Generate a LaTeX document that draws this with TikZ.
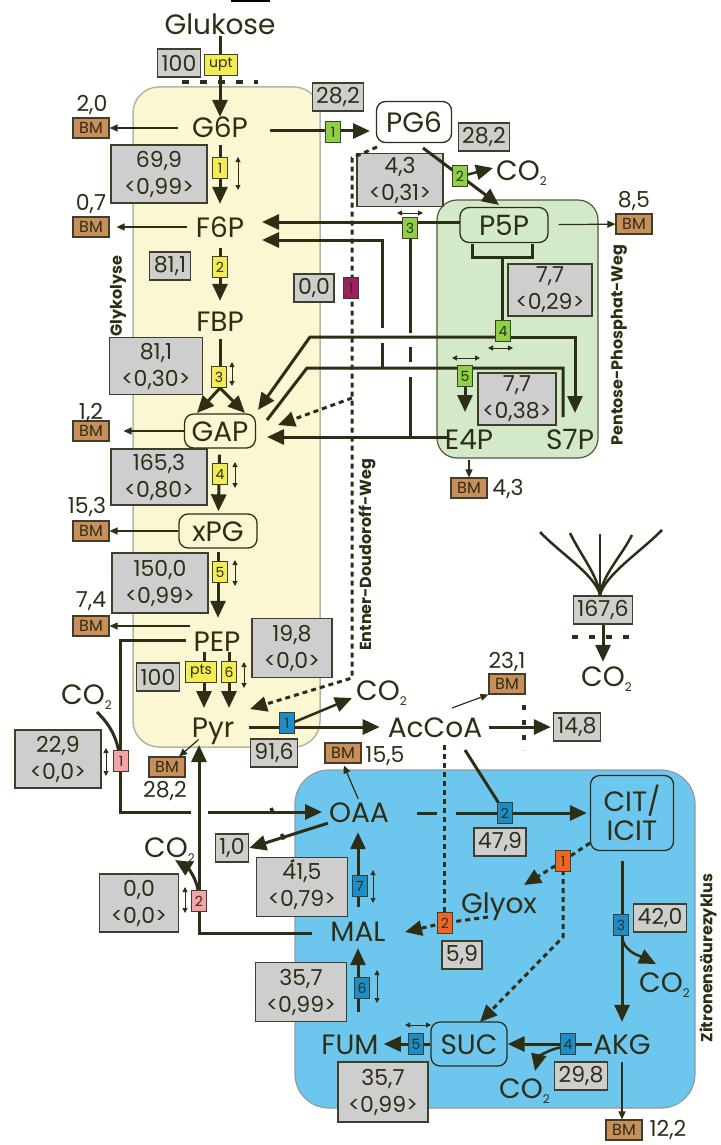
\documentclass[tikz,border=0pt]{standalone}
\usepackage{fontspec}
\setmainfont{Poppins}
\usetikzlibrary{arrows.meta}

\definecolor{ink}{HTML}{2E2E16}
\definecolor{boxedge}{HTML}{3E3E2A}
\definecolor{glyfill}{HTML}{FBF7D3}
\definecolor{glyedge}{HTML}{B5B5A5}
\definecolor{pppfill}{HTML}{D3EACA}
\definecolor{pppedge}{HTML}{55553A}
\definecolor{tcafill}{HTML}{6DC6EE}
\definecolor{tcaedge}{HTML}{8E9CA3}
\definecolor{fluxgray}{HTML}{CECECE}
\definecolor{bmbrown}{HTML}{C98F5B}
\definecolor{tyellow}{HTML}{F3EC55}
\definecolor{tgreen}{HTML}{8DCF46}
\definecolor{tblue}{HTML}{1B8DC9}
\definecolor{torange}{HTML}{F06525}
\definecolor{tpink}{HTML}{F3A3AA}
\definecolor{tpurple}{HTML}{9D1F5E}

\newcommand{\metfont}{\fontsize{28}{29}\selectfont}
\newcommand{\numfont}{\fontsize{22}{27}\selectfont}
\newcommand{\tagfont}{\fontsize{14}{14}\selectfont}
\newcommand{\bmfont}{\fontsize{16}{16}\selectfont}
\newcommand{\pathfont}{\fontsize{16}{16}\selectfont\bfseries}
\newcommand{\cotwo}{CO\raisebox{-5pt}{\fontsize{12}{12}\selectfont 2}}

\tikzset{
  metbase/.style={text=ink, inner sep=1pt},
  met/.style={metbase, font=\metfont, text height=20pt, text depth=0pt},
  boxline/.style={draw=ink, line width=1.3pt, rounded corners=9pt, inner xsep=7pt, inner ysep=7pt},
  metbox/.style={met, boxline},
  flux/.style={draw=boxedge, fill=fluxgray, line width=1.3pt, font=\numfont, text=ink, align=center, inner xsep=4pt, inner ysep=3pt, minimum height=28pt},
  bm/.style={draw=boxedge, fill=bmbrown, line width=1.1pt, font=\bmfont, text=ink, minimum width=36pt, minimum height=20pt, inner sep=0pt},
  bmval/.style={font=\numfont, text=ink, inner sep=1pt, text height=15pt, text depth=0pt},
  tag/.style={draw=boxedge, line width=0.8pt, font=\tagfont, text=ink, minimum width=15pt, minimum height=21pt, inner sep=1pt},
  flow/.style={draw=ink, line width=3pt, -{Triangle[length=17pt,width=15pt]}},
  bar/.style={draw=ink, line width=3pt},
  dflow/.style={flow, dash pattern=on 5pt off 4pt},
  dbar/.style={bar, dash pattern=on 5pt off 4pt},
  bmarrow/.style={draw=ink, line width=1.2pt, -{Triangle[length=8pt,width=7pt]}},
  rev/.style={draw=ink, line width=1pt, {Triangle[length=5pt,width=5pt]}-{Triangle[length=5pt,width=5pt]}},
  membrane/.style={draw=ink, line width=3.5pt, dash pattern=on 7pt off 11pt},
  pathname/.style={font=\pathfont, text=ink, rotate=90},
}

\begin{document}
\begin{tikzpicture}[x=1pt,y=-1pt]
\useasboundingbox (0,0) rectangle (720,1145);

% compartments
\draw[glyedge, fill=glyfill, line width=1.5pt, rounded corners=26pt] (133,87) rectangle (320,747);
\draw[pppedge, fill=pppfill, line width=1.2pt, rounded corners=20pt] (437,200) rectangle (598,458);
\draw[tcaedge, fill=tcafill, line width=1.2pt, rounded corners=34pt] (295,770) rectangle (695,1108);
\draw[black, line width=2pt] (231,1) -- (270,1);

\node[pathname] (nglyk) at (118,296) {Glykolyse};
\node[pathname] (nppp) at (619,345) {Pentose-Phosphat-Weg};
\node[pathname] (ned) at (367,555) {Entner-Doudoroff-Weg};
\node[pathname] (ntca) at (708,958) {Zitronensäurezyklus};

% metabolites
\node[met] (glc) at (220,25) {Glukose};
\node[met] (g6p) at (220,128) {G6P};
\node[met] (f6p) at (220,227) {F6P};
\node[met] (fbp) at (220,321) {FBP};
\node[metbox] (gap) at (220,431) {GAP};
\node[metbox, minimum width=78pt] (xpg) at (218,531) {xPG};
\node[met] (pep) at (217,641) {PEP};
\node[met] (pyr) at (213,727) {Pyr};
\node[metbox, fill=white, minimum width=75pt, minimum height=41pt] (pg6) at (414,122) {PG6};
\node[metbox, minimum width=88pt, minimum height=35pt] (p5p) at (504,225) {P5P};
\node[met] (e4p) at (469,439) {E4P};
\node[met] (s7p) at (570,439) {S7P};
\node[met] (accoa) at (435,727) {AcCoA};
\node[met] (oaa) at (359,812) {OAA};
\node[metbase, boxline, font=\metfont, align=center, minimum width=83pt, minimum height=75pt] (cit) at (632,813) {CIT/\\ICIT};
\node[met] (mal) at (358,931) {MAL};
\node[met] (glyox) at (499,903) {Glyox};
\node[met] (fum) at (350,1044) {FUM};
\node[metbox, minimum width=76pt, minimum height=44pt] (suc) at (469,1044) {SUC};
\node[met] (akg) at (622,1044) {AKG};

\node[met, anchor=west] (co2ppp) at (495,170) {\cotwo};
\node[met, anchor=west] (co2ppc) at (60,694) {\cotwo};
\node[met, anchor=west] (co2pdh) at (355,690) {\cotwo};
\node[met, anchor=west] (co2out) at (580,676) {\cotwo};
\node[met, anchor=west] (co2me) at (143,847) {\cotwo};
\node[met, anchor=west] (co2icd) at (638,982) {\cotwo};
\node[met, anchor=west] (co2kgd) at (498,1088) {\cotwo};

% biomass drains
\node[bm] (bmg6p) at (91,128) {BM};
\node[bm] (bmf6p) at (91,227) {BM};
\node[bm] (bmgap) at (91,431) {BM};
\node[bm] (bmxpg) at (91,531) {BM};
\node[bm] (bmpep) at (91,626) {BM};
\node[bm] (bmpyr) at (167,767) {BM};
\node[bm] (bmp5p) at (634,224) {BM};
\node[bm] (bme4p) at (469,488) {BM};
\node[bm] (bmacc) at (507,684) {BM};
\node[bm] (bmoaa) at (343,753) {BM};
\node[bm] (bmakg) at (624,1130) {BM};
\node[bmval] (n20) at (92,104) {2,0};
\node[bmval] (n07) at (91,203) {0,7};
\node[bmval] (n12) at (91,412) {1,2};
\node[bmval] (n153) at (87,506) {15,3};
\node[bmval] (n74) at (91,600) {7,4};
\node[bmval] (n282) at (165,790) {28,2};
\node[bmval] (n155) at (385,755) {15,5};
\node[bmval] (n231) at (507,661) {23,1};
\node[bmval] (n85) at (634,200) {8,5};
\node[bmval] (n43) at (508,488) {4,3};
\node[bmval] (n122) at (668,1129) {12,2};

% fluxes
\node[flux] (vupt) at (179,63) {100};
\node[flux] (vzwf) at (338,97) {28,2};
\node[flux] (vgnd) at (484,137) {28,2};
\node[flux, minimum width=96pt, minimum height=58pt] (vpgi) at (159,174) {69,9\\<0,99>};
\node[flux] (vpfk) at (170,266) {81,1};
\node[flux] (vedd) at (314,288) {0,0};
\node[flux, minimum width=93pt, minimum height=57pt] (vald) at (156,366) {81,1\\<0,30>};
\node[flux, minimum width=86pt, minimum height=53pt] (vrpe) at (400,180) {4,3\\<0,31>};
\node[flux, minimum width=84pt, minimum height=50pt] (vtkt) at (550,290) {7,7\\<0,29>};
\node[flux, minimum width=78pt, minimum height=48pt] (vtal) at (517,399) {7,7\\<0,38>};
\node[flux, minimum width=96pt, minimum height=56pt] (vgapdh) at (159,477) {165,3\\<0,80>};
\node[flux, minimum width=96pt, minimum height=60pt] (veno) at (160,583) {150,0\\<0,99>};
\node[flux, minimum width=80pt, minimum height=59pt] (vpyk) at (292,648) {19,8\\<0,0>};
\node[flux] (vpts) at (158,677) {100};
\node[flux, minimum width=86pt, minimum height=58pt] (vppc) at (58,759) {22,9\\<0,0>};
\node[flux] (vpdh) at (274,753) {91,6};
\node[flux] (vout) at (232,848) {1,0};
\node[flux, minimum width=91pt, minimum height=59pt] (vmdh) at (302,887) {41,5\\<0,79>};
\node[flux, minimum width=79pt, minimum height=58pt] (vme) at (139,903) {0,0\\<0,0>};
\node[flux] (vcs) at (500,842) {47,9};
\node[flux] (vexa) at (577,727) {14,8};
\node[flux] (vco2) at (603,610) {167,6};
\node[flux] (vms) at (462,955) {5,9};
\node[flux] (vicd) at (660,918) {42,0};
\node[flux, minimum width=91pt, minimum height=59pt] (vfum) at (301,992) {35,7\\<0,99>};
\node[flux, minimum width=90pt, minimum height=60pt] (vsdh) at (383,1092) {35,7\\<0,99>};
\node[flux] (vkgd) at (581,1076) {29,8};

% junctions
\coordinate (ald) at (220,388);
\coordinate (gapinL) at (197,413);
\coordinate (gapinR) at (245,413);
\coordinate (ptsA) at (204,652);
\coordinate (ptsB) at (204,708);
\coordinate (pykA) at (229,652);
\coordinate (pykB) at (229,708);
\coordinate (pepbm) at (190,626);
\coordinate (g6pout) at (270,131);
\coordinate (pg6in) at (370,131);
\coordinate (oxA) at (423,148);
\coordinate (oxB) at (499,205);
\coordinate (gndbr) at (466,175);
\coordinate (co2pppin) at (493,168);
\coordinate (edA) at (377,147);
\coordinate (edB) at (352,158);
\coordinate (edC) at (352,678);
\coordinate (edD) at (250,709);
\coordinate (edE) at (352,398);
\coordinate (edF) at (278,425);
\coordinate (p5pout) at (460,222);
\coordinate (tkA) at (410,222);
\coordinate (f6pinA) at (262,222);
\coordinate (tkAb1) at (410,333);
\coordinate (tkAb2) at (410,347);
\coordinate (tkAb3) at (410,362);
\coordinate (tkAb4) at (410,377);
\coordinate (tkAe) at (410,437);
\coordinate (e4pout) at (447,437);
\coordinate (gapinC) at (267,437);
\coordinate (f6pinB) at (262,240);
\coordinate (tkBc) at (382,240);
\coordinate (tkBb1) at (382,328);
\coordinate (tkBb2) at (382,343);
\coordinate (tkBe) at (382,368);
\coordinate (brA) at (472,244);
\coordinate (brB) at (472,257);
\coordinate (brC) at (532,257);
\coordinate (brD) at (532,244);
\coordinate (tk4top) at (502,257);
\coordinate (tk4) at (502,337);
\coordinate (tk4L) at (310,337);
\coordinate (gapinA) at (258,410);
\coordinate (tk4R) at (575,337);
\coordinate (s7pin) at (575,413);
\coordinate (talS) at (563,417);
\coordinate (talR) at (563,368);
\coordinate (tal5) at (465,368);
\coordinate (talL) at (307,368);
\coordinate (talG) at (267,420);
\coordinate (e4pin) at (465,412);
\coordinate (pdhbr) at (292,723);
\coordinate (co2pdhin) at (352,698);
\coordinate (accbm) at (452,708);
\coordinate (memA) at (524,705);
\coordinate (memB) at (524,750);
\coordinate (csA) at (465,750);
\coordinate (cs) at (505,813);
\coordinate (oaaR1) at (417,813);
\coordinate (oaaR2) at (437,813);
\coordinate (oaaR3) at (456,813);
\coordinate (gsA) at (444,745);
\coordinate (ms) at (444,923);
\coordinate (memC) at (271,808);
\coordinate (memD) at (293,862);
\coordinate (kgdbr) at (563,1047);
\coordinate (co2kgdin) at (535,1071);
\coordinate (icdbr) at (622,937);
\coordinate (co2icdin) at (656,964);
\coordinate (glA) at (590,843);
\coordinate (icl) at (563,861);
\coordinate (glyin) at (524,885);
\coordinate (iclB) at (563,937);
\coordinate (sucin) at (480,1022);
\coordinate (glyout) at (488,917);
\coordinate (malin) at (405,932);
\coordinate (ppcstart) at (186,640);
\coordinate (ppc) at (120,761);
\coordinate (oaain) at (322,812);
\coordinate (ppcco2) at (97,712);
\coordinate (mestart) at (312,933);
\coordinate (mein) at (199,745);
\coordinate (mebr) at (198,890);
\coordinate (co2mein) at (175,860);
\coordinate (fan) at (600,595);
\coordinate (memE) at (572,637);
\coordinate (memF) at (636,637);
\coordinate (memG) at (182,82);
\coordinate (memH) at (258,82);

% glycolysis
\draw[flow] (glc) -- (g6p);
\draw[membrane] (memG) -- (memH);
\draw[flow, shorten <=6pt, shorten >=12pt] (g6p) -- (f6p);
\draw[flow, shorten <=10pt, shorten >=9pt] (f6p) -- (fbp);
\draw[bar, shorten <=7pt] (fbp) -- (ald);
\draw[flow] (ald) -- (gapinL);
\draw[flow] (ald) -- (gapinR);
\draw[flow, shorten <=6pt, shorten >=2pt] (gap) -- (xpg);
\draw[flow, shorten <=3pt, shorten >=12pt] (xpg.south) -- (xpg.south |- pep.north);
\draw[flow] (ptsA) -- (ptsB);
\draw[flow] (pykA) -- (pykB);
\draw[bmarrow, shorten <=13pt] (g6p) -- (bmg6p);
\draw[bmarrow, shorten <=8pt, shorten >=7pt] (f6p) -- (bmf6p);
\draw[bmarrow, shorten >=14pt] (gap) -- (bmgap);
\draw[bmarrow] (xpg) -- (bmxpg);
\draw[bmarrow] (pepbm) -- (bmpep);
\draw[bmarrow, shorten <=2pt] (pyr) -- (bmpyr);

% pentose phosphate and Entner-Doudoroff
\draw[flow] (g6pout) -- (pg6in);
\draw[flow] (oxA) -- (oxB);
\draw[flow, line width=2.5pt] (gndbr) -- (co2pppin);
\draw[flow] (p5pout) -- (f6pinA);
\draw[bar] (tkA) -- (tkAb1);
\draw[bar] (tkAb2) -- (tkAb3);
\draw[bar] (tkAb4) -- (tkAe);
\draw[flow] (e4pout) -- (gapinC);
\draw[bar] (tkBe) -- (tkBb2);
\draw[flow] (tkBb1) -- (tkBc) -- (f6pinB);
\draw[bar] (brA) -- (brB) -- (brC) -- (brD);
\draw[bar] (tk4top) -- (tk4);
\draw[flow] (tk4) -- (tk4R) -- (s7pin);
\draw[flow] (tk4) -- (tk4L) -- (gapinA);
\draw[bar] (talS) -- (talR) -- (talL) -- (talG);
\draw[flow] (tal5) -- (e4pin);
\draw[dflow] (edA) -- (edB) -- (edC) -- (edD);
\draw[dflow] (edE) -- (edF);
\draw[bmarrow, shorten <=10pt] (p5p) -- (bmp5p);
\draw[bmarrow, shorten <=10pt] (e4p) -- (bme4p);

% anaplerosis
\draw[flow] (ppcstart) -| (ppc) |- (oaain);
\draw[bar] (ppcco2) .. controls (110,725) and (118,738) .. (ppc);
\fill[white] (191,805) rectangle (208,819);
\draw[flow] (mestart) -| (mein);
\draw[flow] (mebr) .. controls (196,878) and (188,868) .. (co2mein);

% citric acid cycle
\draw[flow, shorten <=14pt, shorten >=7pt] (pyr) -- (accoa);
\draw[flow, line width=2.5pt] (pdhbr) -- (co2pdhin);
\draw[flow, shorten <=6pt, shorten >=2pt] (accoa) -- (vexa);
\draw[membrane, dash pattern=on 5pt off 10pt] (memA) -- (memB);
\draw[bmarrow] (accbm) -- (bmacc.south west);
\draw[bar] (csA) -- (cs);
\draw[flow, shorten >=3pt] (cs) -- (cit);
\draw[bar] (oaaR1) -- (oaaR2);
\draw[bar] (oaaR3) -- (cs);
\draw[dbar] (gsA) -- (ms);
\draw[bmarrow, shorten <=2pt, shorten >=2pt] (oaa.north) -- (bmoaa.south);
\draw[flow] (oaa.south west) -- (vout.east);
\draw[membrane, dash pattern=on 6pt off 22pt] (memC) -- (memD);
\draw[flow, shorten <=13pt, shorten >=9pt] (mal.north) -- (mal.north |- oaa.south);
\draw[flow, shorten <=21pt, shorten >=6pt] (mal.south |- fum.north) -- (mal.south);
\draw[flow, shorten >=4pt] (suc) -- (fum);
\draw[flow] (akg) -- (suc);
\draw[flow, line width=2.5pt] (kgdbr) .. controls (548,1049) and (538,1058) .. (co2kgdin);
\draw[flow, shorten <=10pt, shorten >=11pt] (akg.north |- cit.south) -- (akg.north);
\draw[flow, line width=2.5pt] (icdbr) .. controls (624,952) and (640,956) .. (co2icdin);
\draw[bmarrow, shorten <=7pt] (akg.south) -- (akg.south |- bmakg.north);
\draw[dbar] (glA) -- (icl);
\draw[dflow] (icl) -- (glyin);
\draw[dflow] (icl) -- (iclB) -- (sucin);
\draw[dbar] (glyout) -- (ms);
\draw[dflow] (ms) -- (malin);

% carbon dioxide release
\foreach \sx/\sy in {540/532, 570/533, 632/535, 662/530}
  \draw[bar, line width=2.5pt] (\sx,\sy) .. controls ({\sx+(600-\sx)*0.35},{\sy+22}) and ({600-(600-\sx)*0.08},575) .. (fan);
\draw[bar, line width=2.5pt] (600,534) -- (fan);
\draw[flow, shorten >=3pt] (vco2.south) -- (vco2.south |- co2out.north);
\draw[membrane, dash pattern=on 6pt off 11pt] (memE) -- (memF);

% reversibility
\foreach \ax/\ay/\bx/\by in {238/157/238/190, 232/362/232/386, 235/462/235/488, 235/560/235/586,
    244/662/244/688, 106/748/106/776, 185/887/185/913, 373/870/373/903, 377/970/377/1003,
    397/213/423/213, 488/348/513/348, 452/358/480/358, 405/1025/431/1025}
  \draw[rev] (\ax,\ay) -- (\bx,\by);

% enzymes
\node[tag, fill=tyellow, minimum width=33pt] (tupt) at (221,65) {upt};
\node[tag, fill=tyellow, minimum width=31pt] (tpts) at (201,672) {pts};
\foreach \tname/\tx/\ty/\tcol/\ttext in {
    ty1/220/168/tyellow/1, ty2/220/267/tyellow/2, ty3/219/377/tyellow/3, ty4/220/474/tyellow/4,
    ty5/220/572/tyellow/5, ty6/229/672/tyellow/6,
    tg1/333/132/tgreen/1, tg2/460/176/tgreen/2, tg3/410/228/tgreen/3, tg4/503/331/tgreen/4, tg5/465/376/tgreen/5,
    tp1/351/288/tpurple/1,
    tb1/287/723/tblue/1, tb2/505/813/tblue/2, tb3/621/925/tblue/3, tb4/568/1044/tblue/4,
    tb5/416/1044/tblue/5, tb6/362/988/tblue/6, tb7/360/886/tblue/7,
    to1/563/861/torange/1, to2/445/923/torange/2,
    tk1/121/761/tpink/1, tk2/199/901/tpink/2}
  \node[tag, fill=\tcol] (\tname) at (\tx,\ty) {\ttext};
\end{tikzpicture}
\end{document}
